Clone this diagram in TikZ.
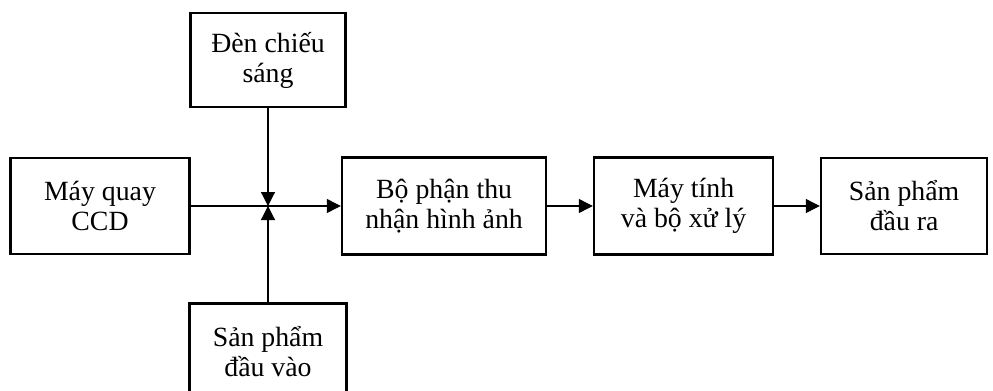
\documentclass[tikz,border=0pt]{standalone}
\usepackage{fontspec}
\setmainfont{Liberation Serif}
\usepackage{tikz}
\usetikzlibrary{arrows.meta, positioning}
\tikzset{
  box/.style={rectangle, draw=black, fill=white, align=center,
    line width=1.3pt, inner sep=2pt, font=\fontsize{13.9}{15}\selectfont,
    execute at begin node={\vspace*{3.5pt}}},
  arrow/.style={-{Triangle[length=7pt, width=7pt]}, line width=0.6pt},
  line/.style={line width=0.6pt}
}

\begin{document}
\begin{tikzpicture}[x=0.5pt, y=-0.5pt]
  \useasboundingbox (0,0) rectangle (993,391);
  \clip (0,0) rectangle (993,391);

  % Nodes
  \node[box, minimum width=89.5pt, minimum height=48pt] (ccd) at (100,206) {Máy quay\\CCD};
  \node[box, minimum width=102pt, minimum height=48.5pt, right=75pt of ccd] (thu) {Bộ phận thu\\nhận hình ảnh};
  \node[box, minimum width=89.5pt, minimum height=48.5pt, right=22.7pt of thu] (pc) {Máy tính\\và bộ xử lý};
  \node[box, minimum width=83pt, minimum height=48pt, right=22.7pt of pc] (out) {Sản phẩm\\đầu ra};
  \node[box, minimum width=77.5pt, minimum height=47pt] (den) at (268,60) {Đèn chiếu\\sáng};
  \node[box, minimum width=78.5pt, minimum height=48pt, anchor=north,
    execute at begin node={}] (in) at (268,302) {Sản phẩm\\đầu vào};
  \coordinate (j) at (den.south |- ccd.east);

  % Connections
  \draw[arrow] (ccd.east) -- (thu.west);
  \draw[arrow] (den.south) -- (j);
  \draw[arrow] (in.north) -- (j);
  \draw[arrow] (thu) -- (pc);
  \draw[arrow] (pc) -- (out);

\end{tikzpicture}
\end{document}
